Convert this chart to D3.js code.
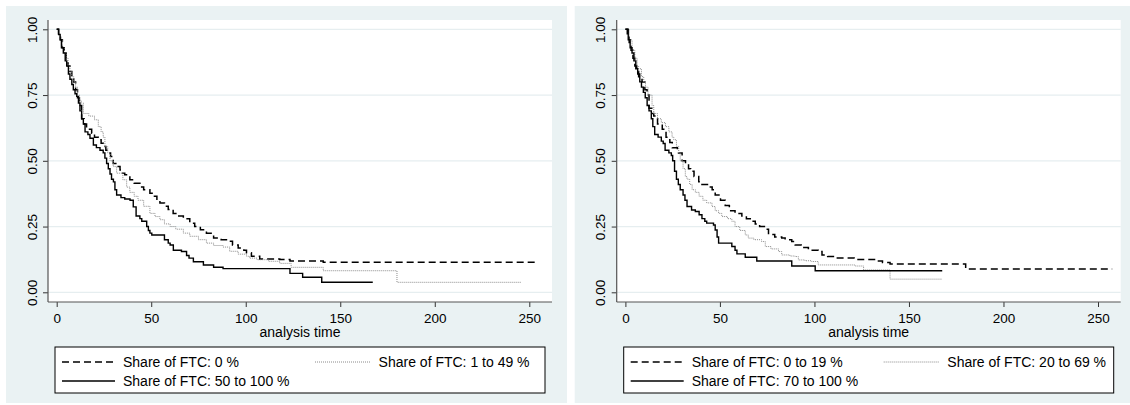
<!DOCTYPE html>
<html>
<head>
<meta charset="utf-8">
<script src="https://cdn.jsdelivr.net/npm/d3@7"></script>
<style>
  html, body { margin: 0; padding: 0; background: #fff; }
  svg { display: block; }
  text { font-family: "Liberation Sans", Arial, Helvetica, sans-serif; fill: #000; }
</style>
</head>
<body>
<svg id="chart" width="1130" height="405"></svg>
<script>
// Axis ticks and title
const xTicks = [0, 50, 100, 150, 200, 250];
const yTicks = [0, 0.25, 0.5, 0.75, 1];
const xTitle = "analysis time";

// Kaplan–Meier estimates, left panel: [analysis time, survival]; last pair = end of follow-up
const leftGroupA = [[0,1],[1,.98],[2,.96],[3,.93],[4,.91],[5,.88],[6,.86],[7,.84],[8,.82],[9,.80],[10,.77],[11,.74],[12,.71],[13.2,.66],[14.5,.64],[15.8,.62],[18.5,.605],[20,.59],[22,.58],[23.5,.567],[24.6,.554],[26,.54],[27.3,.53],[28.5,.516],[29.9,.49],[32,.478],[33.5,.465],[34.3,.453],[36,.447],[38.7,.428],[41,.415],[44,.40],[46,.39],[49.3,.377],[51,.365],[53,.35],[54.6,.34],[57,.327],[59,.315],[61.6,.30],[64,.29],[67,.28],[70.4,.263],[73,.25],[76,.238],[79.2,.225],[83,.206],[87,.20],[89.8,.194],[93,.18],[96,.168],[99,.16],[100.4,.15],[103,.137],[107.4,.127],[118,.125],[123.4,.119],[141,.114],[254.6,.114]];
const leftGroupB = [[0,1],[1,.98],[2,.96],[3,.93],[4,.91],[5,.89],[6,.86],[7,.84],[8,.82],[9,.80],[10,.78],[11,.75],[12,.73],[13,.72],[14.1,.68],[17,.67],[20,.656],[22,.63],[23.5,.61],[24.6,.59],[25.5,.554],[27,.53],[28.2,.50],[29.9,.478],[31.7,.453],[35,.428],[37,.40],[38.7,.38],[41,.365],[43,.35],[46,.327],[49.3,.30],[52,.288],[54.6,.276],[57,.26],[60,.25],[63,.24],[67,.225],[70.4,.213],[75,.20],[79.2,.187],[83,.178],[88,.172],[91.5,.156],[96,.145],[100.4,.137],[102,.13],[106,.124],[112,.118],[118,.11],[124,.095],[141,.082],[180,.038],[245.5,.038]];
const leftGroupC = [[0,1],[1,.98],[1.8,.96],[2.5,.93],[3.5,.91],[4.5,.88],[5.3,.86],[6.2,.83],[7,.81],[8,.79],[8.8,.77],[9.7,.755],[10.6,.745],[11.5,.72],[12.3,.69],[13.2,.66],[14.1,.64],[15,.61],[16.5,.60],[17.6,.586],[19.4,.56],[21,.55],[22.9,.54],[24.6,.53],[25.5,.51],[26.4,.49],[27.3,.47],[28.2,.45],[29,.43],[30,.42],[30.8,.39],[31.7,.37],[34,.36],[36,.355],[38.8,.35],[40.5,.325],[42,.29],[44,.28],[45,.27],[47.6,.25],[48.5,.235],[49.3,.225],[50.3,.218],[57,.20],[59,.187],[60,.18],[61.7,.16],[66,.155],[68.7,.14],[70,.13],[72.3,.116],[77.6,.104],[83,.095],[88,.09],[123.4,.072],[130.1,.057],[140.2,.038],[167.2,.038]];
const leftLabels = ["Share of FTC: 0 %", "Share of FTC: 1 to 49 %", "Share of FTC: 50 to 100 %"];

// Kaplan–Meier estimates, right panel
const rightGroupA = [[0,1],[1,.98],[2,.95],[3,.92],[4,.89],[5,.86],[6,.84],[7,.82],[8.8,.80],[10.3,.77],[11.5,.75],[12.5,.70],[14,.68],[15,.67],[17,.64],[19.5,.62],[21.5,.59],[23.5,.57],[24.8,.55],[27.5,.53],[30,.50],[31.8,.49],[33.4,.47],[34.5,.46],[36.3,.44],[38.8,.42],[40.5,.41],[44,.40],[45.9,.39],[47.5,.37],[50.3,.35],[52.8,.33],[55,.31],[58,.30],[61.6,.29],[64,.28],[67,.27],[68.7,.26],[71,.25],[74,.24],[75.7,.22],[79,.21],[82.7,.206],[84.5,.20],[88,.193],[89.8,.18],[93,.17],[96.8,.16],[102,.155],[104,.142],[107,.136],[111,.13],[121,.125],[133,.119],[136,.113],[140,.108],[180,.089],[257.5,.089]];
const rightGroupB = [[0,1],[2,.96],[3.5,.92],[5,.89],[6.2,.86],[7,.85],[8.5,.82],[9.7,.80],[10.6,.78],[12,.75],[14.1,.71],[15,.68],[17,.66],[19,.645],[21.2,.63],[23,.61],[24.7,.59],[25.6,.58],[27,.555],[28.2,.53],[29,.50],[30.5,.47],[31.7,.44],[32.6,.43],[34,.41],[35.3,.39],[37,.38],[39,.365],[41,.35],[43,.34],[45.8,.326],[47.5,.31],[49.3,.30],[51,.288],[54,.28],[56.3,.27],[58,.25],[60.5,.235],[63.4,.218],[65,.206],[68,.20],[72,.193],[74,.174],[77,.165],[81,.155],[82.7,.142],[87,.138],[89.8,.136],[91.5,.123],[95,.12],[98.6,.117],[102,.104],[121.5,.10],[126,.085],[140,.05],[167.5,.05]];
const rightGroupC = [[0,1],[1.5,.96],[2.5,.93],[3.5,.91],[4.5,.88],[5.5,.85],[6.5,.83],[7.6,.80],[8.5,.78],[9.5,.76],[10.5,.74],[11.5,.71],[12.5,.69],[13.7,.66],[14.5,.63],[15.5,.60],[17.3,.59],[19,.575],[20,.566],[21,.54],[23,.53],[24.3,.52],[25,.50],[26,.46],[27,.43],[28,.41],[29,.39],[30.5,.37],[31.5,.35],[32.6,.326],[35,.313],[37,.307],[39,.295],[40.5,.28],[42,.27],[43,.263],[46.6,.256],[47.5,.237],[48.5,.21],[49.3,.187],[56.3,.174],[58,.16],[59,.146],[63.4,.133],[69.5,.119],[88,.10],[100.4,.082],[167.6,.082]];
const rightLabels = ["Share of FTC: 0 to 19 %", "Share of FTC: 20 to 69 %", "Share of FTC: 70 to 100 %"];

// Line styles: dashed, dotted grey, solid
const lineStyles = [
  { color: "#000", width: 1.5, dash: "7,4" },
  { color: "#8a8a8a", width: 1, dash: "1,1" },
  { color: "#000", width: 1.4, dash: null }
];

const svg = d3.select("#chart");
const fmtY = d3.format(".2f");

function drawPanel(dx, series, labels) {
  const g = svg.append("g").attr("transform", `translate(${dx},0)`);

  // graph region and plot region
  g.append("rect").attr("x", 6).attr("y", 6).attr("width", 561).attr("height", 397).attr("fill", "#eaf2f3");
  g.append("rect").attr("x", 48).attr("y", 20).attr("width", 504).attr("height", 282).attr("fill", "#fff");

  const x = d3.scaleLinear().domain([0, 250]).range([56.7, 529.3]);
  const y = d3.scaleLinear().domain([0, 1]).range([292.3, 29.3]);

  // horizontal grid
  g.append("g").selectAll("line").data(yTicks).join("line")
    .attr("x1", 48).attr("x2", 552)
    .attr("y1", d => y(d)).attr("y2", d => y(d))
    .attr("stroke", "#e6eef0").attr("stroke-width", 1.2);

  // survival step curves
  const line = d3.line().x(d => x(d[0])).y(d => y(d[1])).curve(d3.curveStepAfter);
  series.forEach((s, i) => {
    const st = lineStyles[i];
    g.append("path").datum(s).attr("d", line)
      .attr("fill", "none").attr("stroke", st.color)
      .attr("stroke-width", st.width)
      .attr("stroke-dasharray", st.dash);
  });

  // x axis
  const xa = g.append("g").attr("transform", "translate(0,302)")
    .call(d3.axisBottom(x).tickValues(xTicks).tickSize(5).tickSizeOuter(0));
  xa.select(".domain").remove();
  xa.selectAll(".tick line").attr("stroke", "#333").attr("stroke-width", 1);
  xa.selectAll(".tick text").attr("y", 21).attr("dy", null)
    .attr("font-size", 13.5).attr("font-family", null).attr("fill", "#000");
  g.append("line").attr("x1", 48).attr("x2", 552).attr("y1", 302).attr("y2", 302)
    .attr("stroke", "#555").attr("stroke-width", 1.2);

  // y axis
  const ya = g.append("g").attr("transform", "translate(48,0)")
    .call(d3.axisLeft(y).tickValues(yTicks).tickFormat(fmtY).tickSize(5).tickSizeOuter(0));
  ya.select(".domain").remove();
  ya.selectAll(".tick line").attr("stroke", "#333").attr("stroke-width", 1);
  ya.selectAll(".tick text")
    .attr("x", 0).attr("y", -11.3).attr("dy", null)
    .attr("transform", "rotate(-90)")
    .attr("text-anchor", "middle")
    .attr("font-size", 13.5).attr("font-family", null).attr("fill", "#000");
  g.append("line").attr("x1", 48).attr("x2", 48).attr("y1", 20).attr("y2", 302)
    .attr("stroke", "#555").attr("stroke-width", 1.2);

  // axis title
  g.append("text").attr("x", 300).attr("y", 336.5).attr("text-anchor", "middle")
    .attr("font-size", 14).text(xTitle);

  // legend
  const lg = g.append("g");
  lg.append("rect").attr("x", 55).attr("y", 347).attr("width", 490).attr("height", 46)
    .attr("fill", "#fff").attr("stroke", "#000").attr("stroke-width", 1);
  const slots = [
    { x1: 62, x2: 115, tx: 123, y: 362 },
    { x1: 315, x2: 371, tx: 378.6, y: 362 },
    { x1: 62, x2: 115, tx: 123, y: 381 }
  ];
  labels.forEach((lab, i) => {
    const st = lineStyles[i], sl = slots[i];
    lg.append("line").attr("x1", sl.x1).attr("x2", sl.x2).attr("y1", sl.y).attr("y2", sl.y)
      .attr("stroke", st.color).attr("stroke-width", st.width).attr("stroke-dasharray", st.dash);
    lg.append("text").attr("x", sl.tx).attr("y", sl.y + 5).attr("font-size", 14).text(lab);
  });
}

drawPanel(0, [leftGroupA, leftGroupB, leftGroupC], leftLabels);
drawPanel(568.7, [rightGroupA, rightGroupB, rightGroupC], rightLabels);
</script>
</body>
</html>
